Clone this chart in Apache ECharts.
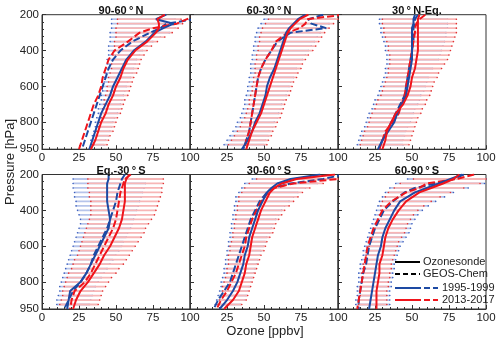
<!DOCTYPE html>
<html>
<head>
<meta charset="utf-8">
<script src="https://cdn.jsdelivr.net/npm/echarts/dist/echarts.min.js"></script>
<style>
html, body { margin: 0; padding: 0; background: #fff; }
#main { width: 500px; height: 342px; }
</style>
</head>
<body>
<div id="main"></div>
<script>
// pressure levels (hPa)
var pLines = [200, 225, 250, 275, 300, 350, 400, 450, 500, 550, 600, 650, 700, 750, 800, 850, 900, 950];
var pBars = [225, 250, 275, 300, 325, 350, 375, 400, 425, 450, 475, 500, 525, 550, 575, 600, 625, 650, 675, 700, 725, 750, 775, 800, 825, 850, 875, 900, 925];

// ---- 90-60N ----
var n9060_sonde95 = [84, 77, 89, 82, 76, 70, 62, 57, 54, 51, 48, 46, 43, 40, 38, 36, 34, 32];
var n9060_sonde13 = [83, 78, 79, 79, 77, 71, 63, 58, 55, 53, 50, 48, 45, 43, 40, 38, 36, 33];
var n9060_geos95 = [110, 103, 84, 80, 73, 61, 53, 48, 45, 43, 41, 39, 37, 35, 33, 31, 29, 27];
var n9060_geos13 = [105, 98, 91, 75, 66, 58, 49, 45, 43, 41, 40, 38, 35, 33, 31, 29, 27, 25];
var n9060_bar95lo = [47, 47, 47, 46, 46, 46, 45, 45, 45, 44, 44, 43, 43, 42, 42, 41, 41, 40, 40, 39, 38, 38, 37, 36, 36, 35, 34, 33, 33];
var n9060_bar95hi = [90, 92, 90, 86, 80, 75, 71, 68, 66, 64, 63, 62, 61, 60, 58, 57, 56, 55, 54, 53, 52, 51, 49, 48, 47, 46, 45, 43, 42];
var n9060_bar13lo = [51, 51, 50, 50, 50, 49, 49, 49, 48, 48, 47, 47, 46, 45, 45, 44, 44, 43, 42, 42, 41, 40, 40, 39, 38, 37, 37, 36, 35];
var n9060_bar13hi = [94, 95, 92, 88, 83, 78, 74, 71, 69, 67, 66, 65, 64, 62, 61, 60, 59, 58, 56, 55, 54, 53, 51, 50, 49, 48, 46, 45, 44];

// ---- 60-30N ----
var n6030_sonde95 = [78, 73, 70, 67, 65, 63, 61, 59, 57, 54, 52, 51, 49, 47, 44, 42, 39, 35];
var n6030_sonde13 = [80, 74, 71, 68, 66, 64, 62, 60, 58, 56, 54, 52, 50, 48, 45, 42, 40, 38];
var n6030_geos95 = [90, 80, 82, 92, 68, 59, 55, 51, 48, 46, 45, 44, 43, 42, 41, 40, 38, 36];
var n6030_geos13 = [104, 79, 78, 74, 66, 58, 55, 51, 48, 46, 45, 44, 43, 42, 41, 40, 38, 37];
var n6030_bar95lo = [50, 48, 46, 45, 44, 44, 43, 43, 42, 42, 41, 41, 41, 40, 40, 39, 39, 38, 37, 37, 36, 35, 34, 32, 31, 29, 27, 25, 23];
var n6030_bar95hi = [98, 94, 90, 88, 86, 84, 82, 80, 78, 76, 74, 72, 71, 70, 68, 67, 66, 65, 63, 62, 61, 60, 59, 57, 56, 54, 53, 51, 50];
var n6030_bar13lo = [53, 51, 49, 48, 47, 47, 46, 46, 45, 45, 44, 44, 44, 43, 43, 42, 42, 41, 40, 40, 39, 38, 37, 35, 34, 32, 30, 28, 26];
var n6030_bar13hi = [100, 97, 94, 91, 89, 87, 85, 83, 80, 78, 76, 75, 73, 72, 70, 69, 68, 67, 65, 64, 63, 62, 61, 59, 58, 56, 55, 53, 52];

// ---- 30N-Eq ----
var n30eq_sonde95 = [52, 51, 51, 50, 50, 50, 50, 50, 49, 48, 47, 46, 43, 40, 38, 34, 30, 27];
var n30eq_sonde13 = [55, 54, 54, 54, 54, 54, 54, 53, 52, 50, 49, 47, 44, 39, 36, 33, 32, 30];
var n30eq_geos95 = [54, 52, 52, 51, 51, 51, 50, 49, 48, 47, 46, 45, 42, 39, 36, 33, 30, 28];
var n30eq_geos13 = [59, 55, 53, 52, 52, 51, 50, 49, 48, 47, 46, 45, 43, 41, 37, 32, 30, 28];
var n30eq_bar95lo = [28, 28, 29, 29, 30, 31, 32, 32, 33, 33, 33, 32, 32, 31, 30, 29, 28, 27, 25, 24, 23, 21, 20, 19, 18, 16, 15, 14, 13];
var n30eq_bar95hi = [74, 74, 74, 73, 73, 72, 71, 70, 69, 68, 66, 64, 63, 61, 60, 59, 58, 56, 55, 54, 52, 51, 50, 49, 47, 46, 45, 44, 44];
var n30eq_bar13lo = [30, 30, 31, 31, 32, 33, 34, 34, 35, 35, 35, 34, 34, 33, 32, 31, 30, 29, 27, 26, 25, 23, 22, 21, 20, 18, 17, 16, 15];
var n30eq_bar13hi = [80, 80, 80, 80, 79, 78, 77, 76, 75, 74, 72, 70, 68, 67, 65, 64, 63, 62, 60, 59, 57, 56, 54, 53, 52, 51, 50, 49, 48];

// ---- Eq-30S ----
var s030_sonde95 = [45, 45, 44, 44, 44, 44, 45, 46, 45, 42, 39, 36, 33, 30, 26, 19, 18, 17];
var s030_sonde13 = [59, 57, 56, 56, 56, 56, 55, 54, 52, 49, 46, 42, 39, 35, 31, 26, 23, 21];
var s030_geos95 = [56, 54, 53, 52, 51, 50, 48, 46, 44, 41, 38, 35, 33, 30, 26, 21, 18, 15];
var s030_geos13 = [60, 56, 55, 54, 53, 52, 51, 50, 48, 45, 42, 39, 36, 33, 29, 22, 20, 19];
var s030_bar95lo = [21, 21, 21, 22, 22, 23, 23, 24, 25, 26, 26, 25, 24, 23, 22, 21, 20, 19, 18, 17, 16, 15, 14, 13, 12, 12, 11, 10, 10];
var s030_bar95hi = [70, 70, 69, 68, 67, 66, 65, 64, 63, 62, 61, 60, 58, 57, 55, 54, 52, 50, 48, 46, 44, 42, 40, 38, 36, 35, 34, 33, 32];
var s030_bar13lo = [31, 31, 31, 32, 32, 33, 33, 33, 33, 32, 31, 30, 29, 28, 27, 26, 25, 24, 22, 21, 20, 18, 17, 16, 15, 14, 14, 13, 12];
var s030_bar13hi = [82, 82, 81, 81, 80, 79, 78, 77, 76, 74, 72, 70, 69, 67, 65, 63, 61, 59, 57, 55, 52, 50, 47, 45, 43, 41, 40, 39, 38];

// ---- 30-60S ----
var s3060_sonde95 = [88, 68, 59, 55, 52, 49, 46, 44, 42, 40, 39, 37, 36, 34, 32, 29, 25, 20];
var s3060_sonde13 = [98, 72, 62, 57, 54, 51, 48, 46, 44, 42, 41, 40, 38, 37, 35, 33, 29, 23];
var s3060_geos95 = [104, 90, 68, 56, 52, 47, 44, 41, 39, 37, 35, 33, 31, 29, 27, 23, 19, 16];
var s3060_geos13 = [112, 100, 70, 57, 53, 48, 45, 42, 40, 38, 37, 35, 33, 31, 28, 25, 21, 18];
var s3060_bar95lo = [42, 37, 35, 33, 31, 31, 30, 30, 29, 29, 28, 28, 27, 27, 26, 26, 25, 25, 24, 24, 23, 23, 22, 21, 21, 20, 19, 18, 17];
var s3060_bar95hi = [95, 86, 78, 73, 70, 67, 64, 62, 60, 58, 56, 55, 54, 52, 51, 50, 48, 47, 46, 45, 44, 43, 42, 41, 40, 39, 38, 37, 34];
var s3060_bar13lo = [45, 40, 37, 35, 33, 33, 32, 32, 31, 31, 30, 30, 29, 29, 28, 27, 27, 26, 26, 26, 25, 25, 24, 23, 22, 22, 21, 20, 19];
var s3060_bar13hi = [100, 90, 81, 76, 73, 70, 67, 64, 62, 60, 58, 57, 56, 54, 52, 51, 50, 48, 47, 46, 45, 44, 43, 42, 41, 40, 39, 38, 35];

// ---- 60-90S ----
var s6090_sonde95 = [84, 76, 68, 60, 52, 42, 38, 35, 32, 30, 29, 27, 26, 25, 24, 23, 22, 21];
var s6090_sonde13 = [82, 78, 71, 63, 55, 46, 41, 37, 34, 32, 31, 30, 28, 28, 27, 26, 26, 26];
var s6090_geos95 = [85, 78, 66, 52, 45, 37, 31, 28, 25, 23, 21, 20, 19, 17, 16, 15, 14, 14];
var s6090_geos13 = [92, 80, 60, 55, 46, 36, 30, 27, 24, 22, 20, 19, 18, 17, 16, 15, 14, 13];
var s6090_bar95lo = [47, 39, 35, 32, 30, 28, 27, 26, 25, 24, 23, 22, 21, 20, 19, 18, 17, 17, 16, 15, 15, 14, 14, 14, 13, 13, 13, 12, 12];
var s6090_bar95hi = [100, 99, 88, 78, 72, 66, 61, 57, 54, 52, 50, 49, 48, 46, 44, 42, 41, 40, 39, 38, 38, 37, 37, 36, 36, 35, 35, 35, 35];
var s6090_bar13lo = [51, 42, 38, 34, 32, 30, 29, 29, 28, 27, 26, 25, 24, 23, 22, 21, 20, 19, 18, 17, 17, 16, 16, 16, 15, 15, 15, 14, 14];
var s6090_bar13hi = [100, 96, 85, 76, 69, 63, 58, 54, 51, 49, 47, 46, 45, 43, 41, 40, 39, 38, 37, 36, 36, 35, 35, 34, 34, 33, 33, 33, 33];

var titles = ['90-60\u2009\u00b0\u2009N', '60-30\u2009\u00b0\u2009N', '30\u2009\u00b0\u2009N-Eq.', 'Eq.-30\u2009\u00b0\u2009S', '30-60\u2009\u00b0\u2009S', '60-90\u2009\u00b0\u2009S'];

var panels = [
    {s95: n9060_sonde95, s13: n9060_sonde13, g95: n9060_geos95, g13: n9060_geos13, b95lo: n9060_bar95lo, b95hi: n9060_bar95hi, b13lo: n9060_bar13lo, b13hi: n9060_bar13hi},
    {s95: n6030_sonde95, s13: n6030_sonde13, g95: n6030_geos95, g13: n6030_geos13, b95lo: n6030_bar95lo, b95hi: n6030_bar95hi, b13lo: n6030_bar13lo, b13hi: n6030_bar13hi},
    {s95: n30eq_sonde95, s13: n30eq_sonde13, g95: n30eq_geos95, g13: n30eq_geos13, b95lo: n30eq_bar95lo, b95hi: n30eq_bar95hi, b13lo: n30eq_bar13lo, b13hi: n30eq_bar13hi},
    {s95: s030_sonde95, s13: s030_sonde13, g95: s030_geos95, g13: s030_geos13, b95lo: s030_bar95lo, b95hi: s030_bar95hi, b13lo: s030_bar13lo, b13hi: s030_bar13hi},
    {s95: s3060_sonde95, s13: s3060_sonde13, g95: s3060_geos95, g13: s3060_geos13, b95lo: s3060_bar95lo, b95hi: s3060_bar95hi, b13lo: s3060_bar13lo, b13hi: s3060_bar13hi},
    {s95: s6090_sonde95, s13: s6090_sonde13, g95: s6090_geos95, g13: s6090_geos13, b95lo: s6090_bar95lo, b95hi: s6090_bar95hi, b13lo: s6090_bar13lo, b13hi: s6090_bar13hi}
];

var BLUE = '#1d4aa3';
var RED = '#f0141b';
var FONT = 'Liberation Sans, Arial, sans-serif';

var myChart = echarts.init(document.getElementById('main'), null, {renderer: 'canvas'});

function barRenderer(lineColor, dotColor) {
    return function (params, api) {
        var p = api.value(2);
        var a = api.coord([api.value(0), p]);
        var b = api.coord([api.value(1), p]);
        return {
            type: 'group',
            children: [
                {type: 'line', shape: {x1: a[0], y1: a[1], x2: b[0], y2: b[1]}, style: {stroke: lineColor, lineWidth: 1.8}},
                {type: 'circle', shape: {cx: a[0], cy: a[1], r: 0.8}, style: {fill: dotColor}},
                {type: 'circle', shape: {cx: b[0], cy: b[1], r: 0.8}, style: {fill: dotColor}}
            ]
        };
    };
}

function barSeries(k, lo, hi, lineColor, dotColor) {
    return {
        type: 'custom',
        xAxisIndex: k,
        yAxisIndex: k,
        renderItem: barRenderer(lineColor, dotColor),
        data: pBars.map(function (p, i) { return [lo[i], hi[i], p]; }),
        encode: {x: [0, 1], y: 2},
        silent: true,
        z: 1
    };
}

function lineSeries(k, vals, color, dashed) {
    return {
        type: 'line',
        xAxisIndex: k,
        yAxisIndex: k,
        data: pLines.map(function (p, i) { return [vals[i], p]; }),
        showSymbol: false,
        symbol: 'none',
        clip: true,
        silent: true,
        lineStyle: {color: color, width: 2, type: dashed ? [7, 3] : 'solid'},
        z: 3
    };
}

var grids = [], xAxes = [], yAxes = [], series = [], titleList = [];
var axisColor = '#333';

panels.forEach(function (pn, k) {
    var col = k % 3, row = Math.floor(k / 3);
    var left = 42 + 148 * col;
    var top = row === 0 ? 14.7 : 174.5;
    grids.push({left: left, top: top, width: 148, height: 134.5, show: true, borderColor: axisColor, borderWidth: 1, backgroundColor: 'transparent'});
    xAxes.push({
        gridIndex: k, type: 'value', min: 0, max: 100, interval: 25,
        axisLine: {show: true, lineStyle: {color: axisColor, width: 1}},
        axisTick: {show: true, inside: true, length: 4, lineStyle: {color: axisColor}},
        minorTick: {show: true, splitNumber: 5, length: 2, lineStyle: {color: axisColor}},
        axisLabel: {showMinLabel: col === 0, showMaxLabel: true, fontSize: 11.5, color: '#222', margin: 3, fontFamily: FONT},
        splitLine: {show: false}
    });
    yAxes.push({
        gridIndex: k, type: 'value', inverse: true, min: 200, max: 950, interval: 200,
        axisLine: {show: true, lineStyle: {color: axisColor, width: 1}},
        axisTick: {show: true, inside: true, length: 4, lineStyle: {color: axisColor}},
        minorTick: {show: true, splitNumber: 5, length: 2, lineStyle: {color: axisColor}},
        axisLabel: {show: col === 0, showMinLabel: true, showMaxLabel: true, fontSize: 11.5, color: '#222', margin: 3, fontFamily: FONT},
        splitLine: {show: false}
    });
    titleList.push({
        text: titles[k],
        left: left + 74,
        top: row === 0 ? 0 : 160,
        textAlign: 'center',
        textStyle: {fontSize: 11, fontWeight: 'bold', color: '#111', fontFamily: FONT}
    });
    series.push(barSeries(k, pn.b95lo, pn.b95hi, 'rgb(182,196,234)', 'rgb(60,95,190)'));
    series.push(barSeries(k, pn.b13lo, pn.b13hi, 'rgb(247,182,182)', 'rgb(225,50,50)'));
    series.push(lineSeries(k, pn.g95, BLUE, true));
    series.push(lineSeries(k, pn.g13, RED, true));
    series.push(lineSeries(k, pn.s95, BLUE, false));
    series.push(lineSeries(k, pn.s13, RED, false));
});

var legendX = 395;
var legendText = {fontSize: 11, fill: '#222', fontFamily: FONT, textVerticalAlign: 'middle'};
var graphics = [
    {type: 'text', x: 10, y: 162, rotation: Math.PI / 2, style: {text: 'Pressure [hPa]', fontSize: 13, fill: '#222', fontFamily: FONT, textAlign: 'center', textVerticalAlign: 'middle'}},
    {type: 'text', x: 265, y: 331, style: {text: 'Ozone [ppbv]', fontSize: 13, fill: '#222', fontFamily: FONT, textAlign: 'center', textVerticalAlign: 'middle'}},
    {type: 'line', shape: {x1: legendX, y1: 262, x2: legendX + 25, y2: 262}, style: {stroke: '#000', lineWidth: 2}, z: 10},
    {type: 'text', x: 423, y: 262, style: Object.assign({text: 'Ozonesonde'}, legendText), z: 10},
    {type: 'line', shape: {x1: legendX, y1: 274, x2: legendX + 25, y2: 274}, style: {stroke: '#000', lineWidth: 2, lineDash: [5, 3]}, z: 10},
    {type: 'text', x: 423, y: 274, style: Object.assign({text: 'GEOS-Chem'}, legendText), z: 10},
    {type: 'line', shape: {x1: legendX, y1: 288, x2: legendX + 20, y2: 288}, style: {stroke: BLUE, lineWidth: 2}, z: 10},
    {type: 'line', shape: {x1: legendX + 20, y1: 288, x2: legendX + 43, y2: 288}, style: {stroke: BLUE, lineWidth: 2, lineDash: [6, 3]}, z: 10},
    {type: 'text', x: 442, y: 288, style: Object.assign({text: '1995-1999'}, legendText), z: 10},
    {type: 'line', shape: {x1: legendX, y1: 300, x2: legendX + 20, y2: 300}, style: {stroke: RED, lineWidth: 2}, z: 10},
    {type: 'line', shape: {x1: legendX + 20, y1: 300, x2: legendX + 43, y2: 300}, style: {stroke: RED, lineWidth: 2, lineDash: [6, 3]}, z: 10},
    {type: 'text', x: 442, y: 300, style: Object.assign({text: '2013-2017'}, legendText), z: 10}
];

var option = {
    animation: false,
    backgroundColor: '#fff',
    title: titleList,
    grid: grids,
    xAxis: xAxes,
    yAxis: yAxes,
    series: series,
    graphic: graphics
};
myChart.setOption(option);
</script>
</body>
</html>
